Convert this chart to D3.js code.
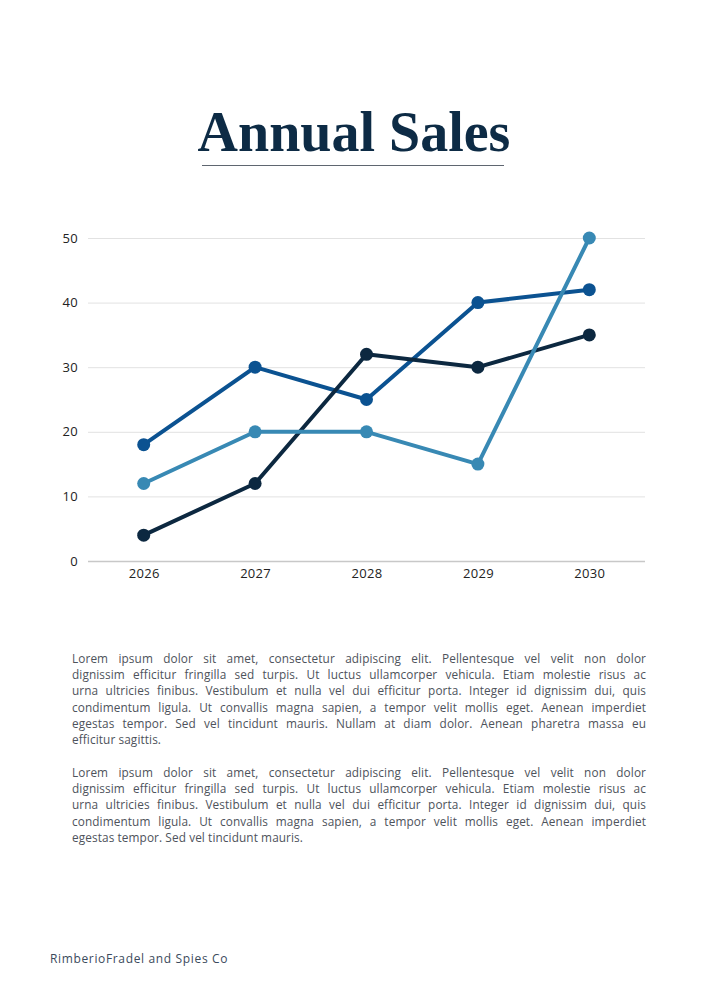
<!DOCTYPE html>
<html>
<head>
<meta charset="utf-8">
<script src="https://cdn.jsdelivr.net/npm/d3@7"></script>
<style>
  body { margin: 0; background: #fff; }
  #page { position: relative; width: 707px; height: 1000px; overflow: hidden; }
  svg { position: absolute; left: 0; top: 0; }
  .para {
    position: absolute; left: 72px; width: 574px;
    font-family: "Open Sans", "Noto Sans", sans-serif; font-size: 11.8px; line-height: 16.2px;
    letter-spacing: 0.1px; color: #4e535b; margin: 0;
  }
  .para span { display: block; text-align: justify; text-align-last: justify; white-space: nowrap; }
  .para span.last { text-align-last: left; }
  #footer {
    position: absolute; left: 50px; top: 950px;
    font-family: "Open Sans", "Noto Sans", sans-serif; font-size: 12px; letter-spacing: 0.65px; color: #3b4a5c;
  }
</style>
</head>
<body>
<div id="page">
  <svg id="chart" width="707" height="1000"></svg>
  <div class="para" id="p1" style="top:650px"></div>
  <div class="para" id="p2" style="top:764px"></div>
  <div id="footer">RimberioFradel and Spies Co</div>
</div>
<script>
// Data
const years = ['2026', '2027', '2028', '2029', '2030'];
const seriesMid = [18, 30, 25, 40, 42];
const seriesLight = [12, 20, 20, 15, 50];
const seriesDark = [4, 12, 32, 30, 35];
const yTicks = [0, 10, 20, 30, 40, 50];

const para1Lines = [
  'Lorem ipsum dolor sit amet, consectetur adipiscing elit. Pellentesque vel velit non dolor',
  'dignissim efficitur fringilla sed turpis. Ut luctus ullamcorper vehicula. Etiam molestie risus ac',
  'urna ultricies finibus. Vestibulum et nulla vel dui efficitur porta. Integer id dignissim dui, quis',
  'condimentum ligula. Ut convallis magna sapien, a tempor velit mollis eget. Aenean imperdiet',
  'egestas tempor. Sed vel tincidunt mauris. Nullam at diam dolor. Aenean pharetra massa eu',
  'efficitur sagittis.',
];
const para2Lines = [
  'Lorem ipsum dolor sit amet, consectetur adipiscing elit. Pellentesque vel velit non dolor',
  'dignissim efficitur fringilla sed turpis. Ut luctus ullamcorper vehicula. Etiam molestie risus ac',
  'urna ultricies finibus. Vestibulum et nulla vel dui efficitur porta. Integer id dignissim dui, quis',
  'condimentum ligula. Ut convallis magna sapien, a tempor velit mollis eget. Aenean imperdiet',
  'egestas tempor. Sed vel tincidunt mauris.',
];

const series = [
  { id: 'mid', values: seriesMid, color: '#0b5291' },
  { id: 'dark', values: seriesDark, color: '#0c2840' },
  { id: 'light', values: seriesLight, color: '#3889b4' },
];

// Paragraph text, line by line so breaks follow the original
[['#p1', para1Lines], ['#p2', para2Lines]].forEach(([sel, lines]) => {
  d3.select(sel).selectAll('span')
    .data(lines)
    .join('span')
    .classed('last', (d, i) => i === lines.length - 1)
    .text(d => d);
});

const svg = d3.select('#chart');

// Title and rule
svg.append('text')
  .attr('x', 354).attr('y', 151)
  .attr('text-anchor', 'middle')
  .attr('font-family', '"Liberation Serif", "DejaVu Serif", serif')
  .attr('font-weight', 'bold')
  .attr('font-size', 56)
  .attr('fill', '#0d2b45')
  .text('Annual Sales');

svg.append('line')
  .attr('x1', 202).attr('x2', 504)
  .attr('y1', 165.5).attr('y2', 165.5)
  .attr('stroke', '#5f6670').attr('stroke-width', 1);

// Chart layout
const layout = { left: 88, right: 645, top: 238, bottom: 561 };

const x = d3.scalePoint()
  .domain(years)
  .range([layout.left, layout.right])
  .padding(0.5);

const y = d3.scaleLinear()
  .domain([0, 50])
  .range([layout.bottom, layout.top]);

// Gridlines
const grid = svg.append('g');
grid.selectAll('line')
  .data(yTicks)
  .join('line')
  .attr('x1', layout.left).attr('x2', layout.right)
  .attr('y1', d => y(d) + 0.5).attr('y2', d => y(d) + 0.5)
  .attr('stroke', d => d === 0 ? '#c8c8c8' : '#e2e2e2')
  .attr('stroke-width', d => d === 0 ? 1.5 : 1);

// Y axis labels
const yAxis = svg.append('g')
  .attr('transform', `translate(${layout.left - 10},0)`)
  .call(d3.axisLeft(y).tickValues(yTicks).tickSize(0).tickPadding(0));
yAxis.select('.domain').remove();
yAxis.selectAll('text')
  .attr('font-family', '"Open Sans", "Noto Sans", sans-serif')
  .attr('font-size', 13)
  .attr('letter-spacing', 0.3)
  .attr('fill', '#222');

// X axis labels
const xAxis = svg.append('g')
  .attr('transform', `translate(0,${layout.bottom + 8})`)
  .call(d3.axisBottom(x).tickSize(0).tickPadding(0));
xAxis.select('.domain').remove();
xAxis.selectAll('text')
  .attr('font-family', '"Open Sans", "Noto Sans", sans-serif')
  .attr('font-size', 13)
  .attr('letter-spacing', 0.3)
  .attr('fill', '#222');

// Lines and points
const line = d3.line()
  .x((d, i) => x(years[i]))
  .y(d => y(d));

const groups = svg.append('g')
  .selectAll('g')
  .data(series)
  .join('g');

groups.append('path')
  .attr('d', d => line(d.values))
  .attr('fill', 'none')
  .attr('stroke', d => d.color)
  .attr('stroke-width', 4)
  .attr('stroke-linejoin', 'round');

groups.each(function(s) {
  d3.select(this).selectAll('circle')
    .data(s.values)
    .join('circle')
    .attr('cx', (d, i) => x(years[i]))
    .attr('cy', d => y(d))
    .attr('r', 6.5)
    .attr('fill', s.color);
});
</script>
</body>
</html>
